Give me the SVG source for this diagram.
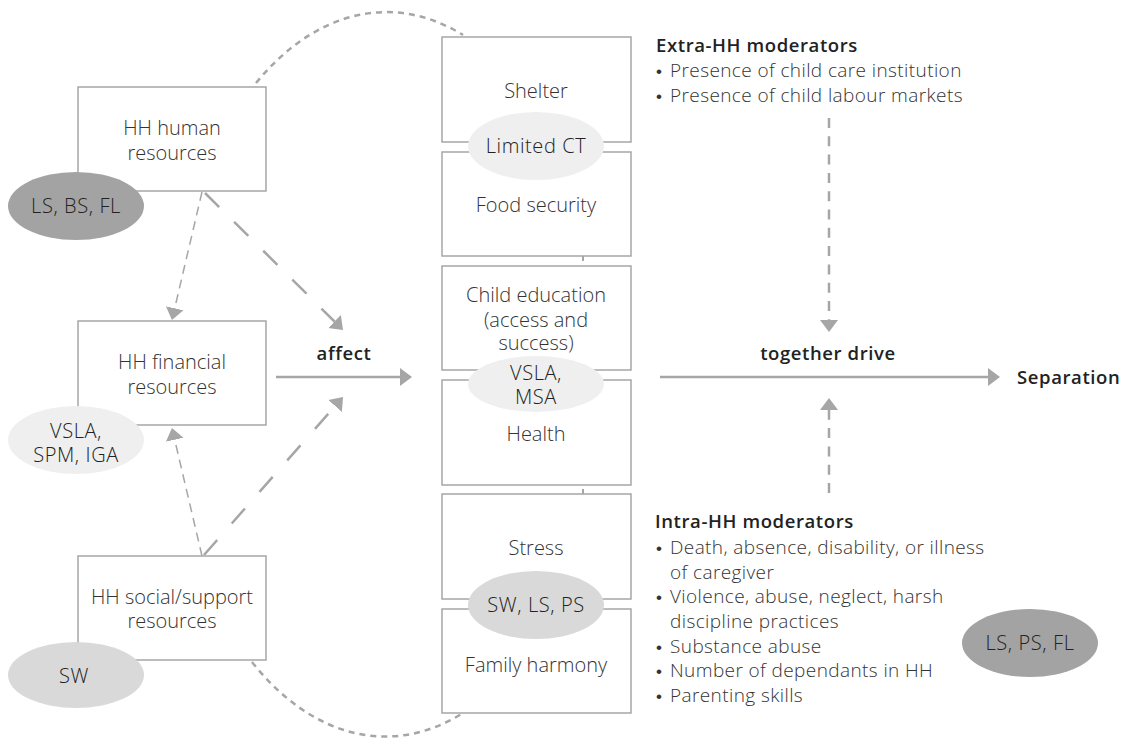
<svg xmlns="http://www.w3.org/2000/svg" width="1132" height="742" viewBox="0 0 1132 742">
<style>
.box{fill:#fff;stroke:#a6a6a6;stroke-width:1.5}
.t{font-family:"Open Sans","Liberation Sans",sans-serif;font-weight:300;fill:#333;font-size:20px;text-anchor:middle}
.e{font-family:"Open Sans","Liberation Sans",sans-serif;font-weight:300;fill:#222;font-size:20px;letter-spacing:0.6px;text-anchor:middle}
.b{font-family:"Open Sans","Liberation Sans",sans-serif;font-weight:300;fill:#333;font-size:19px;letter-spacing:0.4px}
.dot{font-family:"Liberation Sans",sans-serif;fill:#333;font-size:17px}
.h{font-family:"Open Sans","Liberation Sans",sans-serif;font-weight:600;fill:#222;font-size:18.5px;letter-spacing:0.6px}
.dark{fill:#a3a3a3}
.mid{fill:#d9d9d9}
.light{fill:#efefef}
.arr{stroke:#a6a6a6;fill:none}
</style>
<defs>
<marker id="ah" markerUnits="userSpaceOnUse" markerWidth="14" markerHeight="20" viewBox="0 -10 14 20" refX="0" refY="0" orient="auto">
<path d="M0,-9 L12,0 L0,9 z" fill="#a6a6a6"/>
</marker>
</defs>
<rect width="1132" height="742" fill="#fff"/>
<g id="connectors">
<path class="arr" d="M256,83 A220,365 0 0,1 463,35" stroke-width="2.5" stroke-dasharray="6 5"/>
<path class="arr" d="M252,662 A220,365 0 0,0 463,713" stroke-width="2.5" stroke-dasharray="6 5"/>
<line class="arr" x1="202" y1="192" x2="174.7" y2="308.3" stroke-width="1.5" stroke-dasharray="9 6" marker-end="url(#ah)"/>
<line class="arr" x1="202" y1="556" x2="174.7" y2="439.7" stroke-width="1.5" stroke-dasharray="9 6" marker-end="url(#ah)"/>
<line class="arr" x1="205" y1="193" x2="334.5" y2="321.5" stroke-width="2.5" stroke-dasharray="20 21" marker-end="url(#ah)"/>
<line class="arr" x1="204" y1="555" x2="335.1" y2="406" stroke-width="2.5" stroke-dasharray="20 22" marker-end="url(#ah)"/>
<line class="arr" x1="276" y1="377" x2="400" y2="377" stroke-width="2.5" marker-end="url(#ah)"/>
<line class="arr" x1="660" y1="377" x2="988" y2="377" stroke-width="2.5" marker-end="url(#ah)"/>
<line class="arr" x1="829" y1="118" x2="829" y2="320" stroke-width="2.5" stroke-dasharray="10 8.3" marker-end="url(#ah)"/>
<line class="arr" x1="829" y1="493" x2="829" y2="410" stroke-width="2.5" stroke-dasharray="10 8.3" marker-end="url(#ah)"/>
<line class="arr" x1="583" y1="256" x2="583" y2="261" stroke-width="2"/>
<line class="arr" x1="583" y1="489" x2="583" y2="494" stroke-width="2"/>
</g>
<g id="hh-human">
<rect class="box" x="78" y="87" width="188" height="104"/>
<text class="t" x="172" y="135">HH human</text>
<text class="t" x="172" y="160">resources</text>
</g>
<g id="hh-financial">
<rect class="box" x="78" y="321" width="188" height="104"/>
<text class="t" x="172" y="369">HH financial</text>
<text class="t" x="172" y="394">resources</text>
</g>
<g id="hh-social">
<rect class="box" x="78" y="556" width="188" height="104"/>
<text class="t" x="172" y="604">HH social/support</text>
<text class="t" x="172" y="628">resources</text>
</g>
<g id="ell-lsbsfl">
<ellipse class="dark" cx="76" cy="206" rx="68" ry="34"/>
<text class="e" x="76" y="213">LS, BS, FL</text>
</g>
<g id="ell-vsla-spm">
<ellipse class="light" cx="76" cy="440" rx="68" ry="34"/>
<text class="e" x="76" y="438">VSLA,</text>
<text class="e" x="76" y="462">SPM, IGA</text>
</g>
<g id="ell-sw">
<ellipse class="mid" cx="76" cy="675" rx="68" ry="33"/>
<text class="e" x="74" y="683">SW</text>
</g>
<g id="shelter">
<rect class="box" x="442" y="37" width="189" height="105"/>
<text class="t" x="536" y="98">Shelter</text>
</g>
<g id="food">
<rect class="box" x="442" y="152" width="189" height="104"/>
<text class="t" x="536" y="212">Food security</text>
</g>
<g id="education">
<rect class="box" x="442" y="266" width="189" height="104"/>
<text class="t" x="536" y="302">Child education</text>
<text class="t" x="536" y="327">(access and</text>
<text class="t" x="536" y="350">success)</text>
</g>
<g id="health">
<rect class="box" x="442" y="380" width="189" height="105"/>
<text class="t" x="536" y="441">Health</text>
</g>
<g id="stress">
<rect class="box" x="442" y="494" width="189" height="105"/>
<text class="t" x="536" y="555">Stress</text>
</g>
<g id="harmony">
<rect class="box" x="442" y="609" width="189" height="104"/>
<text class="t" x="536" y="672">Family harmony</text>
</g>
<g id="ell-limited-ct">
<ellipse class="light" cx="536" cy="146" rx="68" ry="34"/>
<text class="e" x="536" y="153">Limited CT</text>
</g>
<g id="ell-vsla-msa">
<ellipse class="light" cx="536" cy="384" rx="68" ry="28"/>
<text class="e" x="536" y="380">VSLA,</text>
<text class="e" x="536" y="404">MSA</text>
</g>
<g id="ell-sw-ls-ps">
<ellipse class="mid" cx="536" cy="605" rx="68" ry="34"/>
<text class="e" x="536" y="612">SW, LS, PS</text>
</g>
<g id="ell-ls-ps-fl">
<ellipse class="dark" cx="1030" cy="643" rx="68" ry="34"/>
<text class="e" x="1030" y="650">LS, PS, FL</text>
</g>
<g id="labels">
<text class="h" x="344" y="360" text-anchor="middle">affect</text>
<text class="h" x="828" y="360" text-anchor="middle">together drive</text>
<text class="h" x="1017" y="384">Separation</text>
</g>
<g id="extra-hh">
<text class="h" x="656" y="52">Extra-HH moderators</text>
<text class="dot" x="656" y="77">•</text><text class="b" x="670" y="77">Presence of child care institution</text>
<text class="dot" x="656" y="102">•</text><text class="b" x="670" y="102">Presence of child labour markets</text>
</g>
<g id="intra-hh">
<text class="h" x="655" y="528">Intra-HH moderators</text>
<text class="dot" x="656" y="554">•</text><text class="b" x="670" y="554">Death, absence, disability, or illness</text>
<text class="b" x="670" y="579">of caregiver</text>
<text class="dot" x="656" y="603">•</text><text class="b" x="670" y="603">Violence, abuse, neglect, harsh</text>
<text class="b" x="670" y="628">discipline practices</text>
<text class="dot" x="656" y="653">•</text><text class="b" x="670" y="653">Substance abuse</text>
<text class="dot" x="656" y="677">•</text><text class="b" x="670" y="677">Number of dependants in HH</text>
<text class="dot" x="656" y="702">•</text><text class="b" x="670" y="702">Parenting skills</text>
</g>
</svg>
